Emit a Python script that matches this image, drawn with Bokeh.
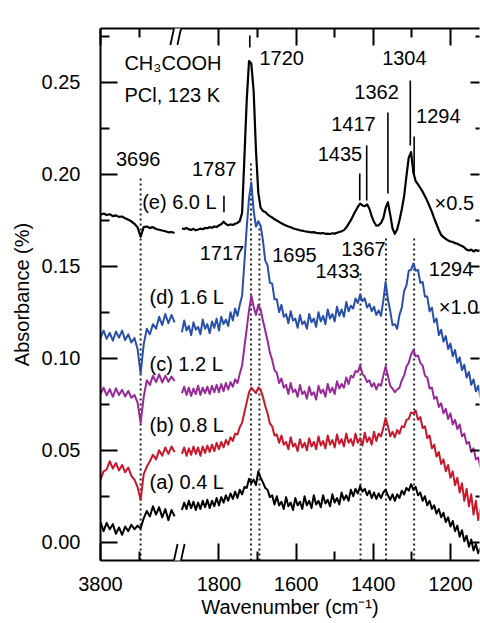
from bokeh.plotting import figure
from bokeh.models import Range1d, LinearAxis, FixedTicker, Arrow, NumeralTickFormatter, Label
from bokeh.embed import file_html
from bokeh.resources import INLINE

# ---------------- data ----------------
# wavenumber sampling (cm-1) of the two panels of the broken axis
WN_LEFT = list(range(3800, 3607, -8))
WN_RIGHT = list(range(1896, 1121, -6))

# (e) 6.0 L (x0.5)
E_LEFT = [0.1780, 0.1786, 0.1778, 0.1782, 0.1772, 0.1776, 0.1768, 0.1770, 0.1760, 0.1752,
          0.1744, 0.1730, 0.1712, 0.1660, 0.1712, 0.1716, 0.1708, 0.1712, 0.1702, 0.1698,
          0.1694, 0.1690, 0.1684, 0.1686, 0.1680]
E_RIGHT = [0.1705, 0.1702, 0.1708, 0.1700, 0.1697, 0.1703, 0.1695, 0.1699, 0.1704, 0.1701,
           0.1708, 0.1706, 0.1712, 0.1709, 0.1716, 0.1713, 0.1722, 0.1728, 0.1742, 0.1729,
           0.1722, 0.1727, 0.1724, 0.1731, 0.1735, 0.1745, 0.1790, 0.2090, 0.2400, 0.2615,
           0.2600, 0.2450, 0.2130, 0.1900, 0.1818, 0.1800, 0.1795, 0.1782, 0.1772, 0.1765,
           0.1755, 0.1748, 0.1741, 0.1733, 0.1727, 0.1721, 0.1716, 0.1712, 0.1706, 0.1702,
           0.1699, 0.1695, 0.1693, 0.1690, 0.1688, 0.1686, 0.1684, 0.1685, 0.1681, 0.1680,
           0.1678, 0.1680, 0.1676, 0.1677, 0.1675, 0.1679, 0.1677, 0.1682, 0.1686, 0.1690,
           0.1696, 0.1710, 0.1730, 0.1750, 0.1775, 0.1800, 0.1822, 0.1840, 0.1830, 0.1826,
           0.1836, 0.1812, 0.1772, 0.1740, 0.1720, 0.1722, 0.1735, 0.1760, 0.1815, 0.1848,
           0.1780, 0.1705, 0.1676, 0.1700, 0.1750, 0.1810, 0.1880, 0.1990, 0.2090, 0.2120,
           0.2010, 0.1962, 0.1945, 0.1925, 0.1905, 0.1880, 0.1855, 0.1825, 0.1795, 0.1760,
           0.1728, 0.1697, 0.1670, 0.1658, 0.1648, 0.1640, 0.1634, 0.1632, 0.1625, 0.1622,
           0.1615, 0.1610, 0.1602, 0.1590, 0.1585, 0.1590, 0.1580, 0.1588, 0.1583, 0.1586]

# (d) 1.6 L
D_LEFT = [0.1110, 0.1150, 0.1105, 0.1138, 0.1095, 0.1145, 0.1112, 0.1150, 0.1098, 0.1130,
          0.1085, 0.1110, 0.1050, 0.0918, 0.1075, 0.1160, 0.1130, 0.1185, 0.1160, 0.1225,
          0.1180, 0.1240, 0.1190, 0.1235, 0.1195]
D_RIGHT = [0.1140, 0.1205, 0.1150, 0.1175, 0.1125, 0.1195, 0.1155, 0.1170, 0.1130, 0.1210,
           0.1160, 0.1185, 0.1135, 0.1200, 0.1165, 0.1215, 0.1150, 0.1225, 0.1185, 0.1210,
           0.1175, 0.1250, 0.1205, 0.1270, 0.1230, 0.1290, 0.1340, 0.1520, 0.1710, 0.1870,
           0.1955, 0.1800, 0.1715, 0.1745, 0.1720, 0.1640, 0.1530, 0.1505, 0.1410, 0.1405,
           0.1320, 0.1320, 0.1250, 0.1290, 0.1225, 0.1240, 0.1190, 0.1255, 0.1205, 0.1215,
           0.1165, 0.1235, 0.1185, 0.1200, 0.1160, 0.1240, 0.1195, 0.1215, 0.1170, 0.1250,
           0.1200, 0.1230, 0.1185, 0.1265, 0.1215, 0.1240, 0.1200, 0.1280, 0.1230, 0.1265,
           0.1225, 0.1305, 0.1255, 0.1285, 0.1270, 0.1325, 0.1300, 0.1345, 0.1310, 0.1325,
           0.1275, 0.1295, 0.1255, 0.1280, 0.1235, 0.1260, 0.1230, 0.1310, 0.1415, 0.1320,
           0.1255, 0.1180, 0.1185, 0.1160, 0.1235, 0.1275, 0.1365, 0.1395, 0.1475, 0.1480,
           0.1515, 0.1475, 0.1480, 0.1410, 0.1415, 0.1335, 0.1335, 0.1255, 0.1275, 0.1195,
           0.1215, 0.1125, 0.1155, 0.1090, 0.1120, 0.1050, 0.1080, 0.1010, 0.1045, 0.0975,
           0.1005, 0.0935, 0.0965, 0.0895, 0.0925, 0.0855, 0.0885, 0.0820, 0.0850, 0.0785]

# (c) 1.2 L
C_LEFT = [0.0805, 0.0840, 0.0798, 0.0832, 0.0790, 0.0836, 0.0800, 0.0828, 0.0792, 0.0822,
          0.0785, 0.0800, 0.0760, 0.0648, 0.0790, 0.0880, 0.0855, 0.0905, 0.0870, 0.0912,
          0.0868, 0.0905, 0.0872, 0.0900, 0.0876]
C_RIGHT = [0.0810, 0.0845, 0.0800, 0.0840, 0.0795, 0.0835, 0.0805, 0.0850, 0.0800, 0.0840,
           0.0810, 0.0845, 0.0805, 0.0850, 0.0815, 0.0855, 0.0815, 0.0860, 0.0820, 0.0865,
           0.0830, 0.0870, 0.0845, 0.0885, 0.0865, 0.0915, 0.0960, 0.1060, 0.1160, 0.1260,
           0.1340, 0.1280, 0.1235, 0.1290, 0.1265, 0.1205, 0.1150, 0.1095, 0.1030, 0.0990,
           0.0935, 0.0920, 0.0865, 0.0890, 0.0840, 0.0855, 0.0805, 0.0865, 0.0815, 0.0830,
           0.0790, 0.0855, 0.0805, 0.0820, 0.0780, 0.0845, 0.0800, 0.0815, 0.0775, 0.0850,
           0.0810, 0.0830, 0.0790, 0.0860, 0.0815, 0.0840, 0.0805, 0.0875, 0.0835, 0.0860,
           0.0840, 0.0895, 0.0860, 0.0905, 0.0895, 0.0930, 0.0925, 0.0960, 0.0915, 0.0900,
           0.0870, 0.0880, 0.0845, 0.0865, 0.0830, 0.0860, 0.0850, 0.0905, 0.0955, 0.0905,
           0.0850, 0.0835, 0.0815, 0.0830, 0.0840, 0.0880, 0.0905, 0.0955, 0.0975, 0.1020,
           0.1045, 0.1010, 0.1015, 0.0975, 0.0960, 0.0905, 0.0895, 0.0835, 0.0840, 0.0780,
           0.0790, 0.0735, 0.0755, 0.0700, 0.0725, 0.0670, 0.0700, 0.0640, 0.0665, 0.0615,
           0.0640, 0.0575, 0.0590, 0.0535, 0.0545, 0.0490, 0.0510, 0.0450, 0.0460, 0.0405]

# (b) 0.8 L
B_LEFT = [0.0340, 0.0385, 0.0395, 0.0440, 0.0400, 0.0430, 0.0390, 0.0420, 0.0380, 0.0405,
          0.0360, 0.0340, 0.0300, 0.0230, 0.0370, 0.0410, 0.0440, 0.0475, 0.0450, 0.0500,
          0.0470, 0.0515, 0.0480, 0.0520, 0.0490]
B_RIGHT = [0.0480, 0.0515, 0.0470, 0.0510, 0.0475, 0.0520, 0.0480, 0.0515, 0.0470, 0.0520,
           0.0485, 0.0525, 0.0490, 0.0530, 0.0495, 0.0540, 0.0505, 0.0545, 0.0515, 0.0555,
           0.0530, 0.0570, 0.0550, 0.0590, 0.0585, 0.0625, 0.0650, 0.0705, 0.0760, 0.0815,
           0.0840, 0.0825, 0.0810, 0.0840, 0.0830, 0.0790, 0.0740, 0.0700, 0.0645, 0.0630,
           0.0580, 0.0585, 0.0540, 0.0580, 0.0530, 0.0545, 0.0505, 0.0570, 0.0520, 0.0535,
           0.0495, 0.0560, 0.0515, 0.0540, 0.0500, 0.0565, 0.0520, 0.0545, 0.0505, 0.0575,
           0.0525, 0.0550, 0.0510, 0.0580, 0.0530, 0.0555, 0.0515, 0.0585, 0.0535, 0.0560,
           0.0520, 0.0590, 0.0540, 0.0560, 0.0525, 0.0590, 0.0540, 0.0565, 0.0525, 0.0595,
           0.0545, 0.0570, 0.0530, 0.0600, 0.0550, 0.0590, 0.0575, 0.0620, 0.0675, 0.0630,
           0.0575, 0.0600, 0.0570, 0.0610, 0.0590, 0.0630, 0.0625, 0.0665, 0.0670, 0.0705,
           0.0700, 0.0715, 0.0665, 0.0680, 0.0620, 0.0630, 0.0565, 0.0580, 0.0510, 0.0530,
           0.0465, 0.0490, 0.0425, 0.0450, 0.0385, 0.0420, 0.0350, 0.0385, 0.0310, 0.0350,
           0.0270, 0.0320, 0.0225, 0.0290, 0.0195, 0.0260, 0.0150, 0.0225, 0.0120, 0.0185]

# (a) 0.4 L
A_LEFT = [0.0110, 0.0060, 0.0105, 0.0070, 0.0098, 0.0045, 0.0080, 0.0040, 0.0085, 0.0060,
          0.0095, 0.0070, 0.0090, 0.0075, 0.0130, 0.0170, 0.0140, 0.0195, 0.0150, 0.0190,
          0.0135, 0.0180, 0.0120, 0.0175, 0.0140]
A_RIGHT = [0.0175, 0.0215, 0.0180, 0.0225, 0.0185, 0.0220, 0.0175, 0.0215, 0.0180, 0.0225,
           0.0190, 0.0230, 0.0185, 0.0225, 0.0195, 0.0240, 0.0200, 0.0245, 0.0215, 0.0255,
           0.0225, 0.0265, 0.0235, 0.0275, 0.0240, 0.0285, 0.0260, 0.0300, 0.0295, 0.0345,
           0.0320, 0.0340, 0.0310, 0.0385, 0.0350, 0.0325, 0.0295, 0.0285, 0.0245, 0.0255,
           0.0205, 0.0250, 0.0200, 0.0220, 0.0180, 0.0245, 0.0195, 0.0215, 0.0175, 0.0240,
           0.0200, 0.0220, 0.0180, 0.0250, 0.0200, 0.0225, 0.0185, 0.0255, 0.0205, 0.0225,
           0.0190, 0.0255, 0.0210, 0.0230, 0.0195, 0.0260, 0.0215, 0.0240, 0.0205, 0.0270,
           0.0230, 0.0255, 0.0225, 0.0285, 0.0250, 0.0290, 0.0265, 0.0305, 0.0275, 0.0290,
           0.0255, 0.0280, 0.0240, 0.0270, 0.0235, 0.0265, 0.0240, 0.0270, 0.0285, 0.0255,
           0.0230, 0.0260, 0.0225, 0.0260, 0.0240, 0.0280, 0.0260, 0.0295, 0.0280, 0.0315,
           0.0285, 0.0300, 0.0255, 0.0270, 0.0225, 0.0250, 0.0200, 0.0225, 0.0180, 0.0200,
           0.0155, 0.0180, 0.0135, 0.0160, 0.0110, 0.0135, 0.0085, 0.0115, 0.0060, 0.0090,
           0.0030, 0.0065, 0.0005, 0.0035, -0.0025, 0.0015, -0.0045, -0.0010, -0.0060, -0.0030]

SERIES_COLORS = ["black", "#2850AA", "#982A98", "#C8182C", "black"]

# axis ticks (cm-1)
X_MAJOR_LEFT = [3800]
X_MINOR_LEFT = [3700]
X_MAJOR_RIGHT = [1800, 1600, 1400, 1200]
X_MINOR_RIGHT = [1700, 1500, 1300, 1100]
Y_MAJOR = [0.00, 0.05, 0.10, 0.15, 0.20, 0.25]
Y_MINOR = [0.025, 0.075, 0.125, 0.175, 0.225, 0.275]

# dotted reference lines (cm-1) and their upper ends (absorbance)
DOT_WN = [3696, 1717, 1695, 1433, 1367, 1294]
DOT_TOP = [0.1993, 0.2058, 0.1725, 0.1461, 0.1656, 0.1656]

# solid peak markers of spectrum (e)
MARK_WN = [1787, 1720, 1435, 1417, 1362, 1304, 1294]
MARK_Y0 = [0.1793, 0.2688, 0.1857, 0.1857, 0.1895, 0.2156, 0.1993]
MARK_Y1 = [0.1883, 0.2754, 0.2004, 0.2156, 0.2335, 0.2509, 0.2205]

# text annotations: text, axis position (cm-1, left/right panel), vertical centre (absorbance)
LABELS = ["CH\u2083COOH", "PCl, 123 K", "3696", "1787", "(e) 6.0 L", "1720", "1304",
          "1362", "1417", "1435", "1294", "\u00d70.5", "1717", "1695", "1367", "1433",
          "1294", "\u00d71.0", "(d) 1.6 L", "(c) 1.2 L", "(b) 0.8 L", "(a) 0.4 L"]
LABEL_WN = [3738, 3738, 3760, 1870, 3692, 1695, 1377, 1449, 1509, 1544, 1289, 1241,
            1850, 1662, 1483, 1550, 1256, 1230, 3673, 3673, 3673, 3673]
LABEL_Y = [0.2602, 0.2429, 0.2081, 0.2026, 0.1851, 0.2634, 0.2634, 0.2448, 0.2275,
           0.2112, 0.2317, 0.1846, 0.1569, 0.1560, 0.1596, 0.1475, 0.1487, 0.1276,
           0.1330, 0.0971, 0.0636, 0.0328]

# ---------------- broken-axis mapping ----------------
LEFT_ORIGIN = 3800     # left panel: 3800 -> 0
RIGHT_ORIGIN = 2107    # right panel: 1900 -> 207
SPLIT = 2800


def pos(wn):
    return (LEFT_ORIGIN - wn) if wn > SPLIT else (RIGHT_ORIGIN - wn)


Y_START, Y_END = -0.00995, 0.27918
X_END = 982.4
FONT = "Liberation Sans"
FS = "20px"
FS_LABEL = "15pt"

p = figure(width=480, height=623, output_backend="svg", toolbar_location=None,
           x_range=Range1d(0, X_END), y_range=Range1d(Y_START, Y_END),
           x_axis_location=None, y_axis_location=None,
           min_border_left=100, min_border_right=1, min_border_top=28, min_border_bottom=63)
p.outline_line_color = None
p.xgrid.visible = False
p.ygrid.visible = False
p.background_fill_color = "white"
p.border_fill_color = "white"

xmaj = [pos(w) for w in X_MAJOR_LEFT + X_MAJOR_RIGHT]
xmin = [pos(w) for w in X_MINOR_LEFT + X_MINOR_RIGHT]
xlabels = {pos(w): str(w) for w in X_MAJOR_LEFT + X_MAJOR_RIGHT}


def style(ax, tick_in, minor_in, labels=True):
    ax.axis_line_width = 2
    ax.axis_line_color = "black"
    ax.major_tick_line_width = 2
    ax.minor_tick_line_width = 2
    ax.major_tick_line_color = "black"
    ax.minor_tick_line_color = "black"
    ax.major_tick_in = tick_in
    ax.major_tick_out = 0
    ax.minor_tick_in = minor_in
    ax.minor_tick_out = 0
    if labels:
        ax.major_label_text_font = FONT
        ax.major_label_text_font_size = FS
        ax.major_label_text_color = "black"
        ax.axis_label_text_font = FONT
        ax.axis_label_text_font_size = FS
        ax.axis_label_text_font_style = "normal"
        ax.axis_label_text_color = "black"
    else:
        ax.major_label_text_font_size = "0px"
        ax.major_label_standoff = 0


bottom = LinearAxis(ticker=FixedTicker(ticks=xmaj, minor_ticks=xmin),
                    major_label_overrides=xlabels, axis_label="Wavenumber (cm\u207b\u00b9)")
style(bottom, 17, 9)
bottom.major_label_standoff = 16
bottom.axis_label_standoff = 2
p.add_layout(bottom, "below")

top = LinearAxis(ticker=FixedTicker(ticks=xmaj, minor_ticks=xmin))
style(top, 17, 9, labels=False)
p.add_layout(top, "above")

left = LinearAxis(ticker=FixedTicker(ticks=Y_MAJOR, minor_ticks=Y_MINOR),
                  formatter=NumeralTickFormatter(format="0.00"), axis_label="Absorbance (%)")
style(left, 17, 9)
left.major_label_standoff = 20
left.axis_label_standoff = 6
p.add_layout(left, "left")

right = LinearAxis(ticker=FixedTicker(ticks=Y_MAJOR, minor_ticks=Y_MINOR))
style(right, 9, 4, labels=False)
right.axis_line_color = None
p.add_layout(right, "right")

# dotted guide lines
p.segment(x0=[pos(w) for w in DOT_WN], y0=[Y_START] * len(DOT_WN),
          x1=[pos(w) for w in DOT_WN], y1=DOT_TOP,
          line_color="#222222", line_width=2, line_dash="2 3")

# spectra
lefts = [A_LEFT, B_LEFT, C_LEFT, D_LEFT, E_LEFT]
rights = [A_RIGHT, B_RIGHT, C_RIGHT, D_RIGHT, E_RIGHT]
cols = [SERIES_COLORS[4], SERIES_COLORS[3], SERIES_COLORS[2], SERIES_COLORS[1], SERIES_COLORS[0]]
widths = [2.0, 2.0, 2.0, 2.0, 2.2]
for yl, yr, c, w in zip(lefts, rights, cols, widths):
    p.line([pos(v) for v in WN_LEFT], yl, line_color=c, line_width=w, line_join="round")
    p.line([pos(v) for v in WN_RIGHT], yr, line_color=c, line_width=w, line_join="round")

# peak markers
p.segment(x0=[pos(w) for w in MARK_WN], y0=MARK_Y0, x1=[pos(w) for w in MARK_WN], y1=MARK_Y1,
          line_color="black", line_width=1.6)

# texts
for t, wn, yy in zip(LABELS, LABEL_WN, LABEL_Y):
    p.add_layout(Label(x=pos(wn), y=yy, text=t, text_font=FONT, text_font_size=FS_LABEL,
                       text_color="black", text_align="left", text_baseline="middle"))

# axis break marks (//) on top and bottom axis lines
BREAK_C1, BREAK_C2 = 190.5, 208.7
DU, DY = 9.3, 0.0090
for yax in (Y_START, Y_END):
    p.add_layout(Arrow(end=None, x_start=BREAK_C1, y_start=yax, x_end=BREAK_C2, y_end=yax,
                       line_color="white", line_width=5))
    for cx in (BREAK_C1, BREAK_C2):
        p.add_layout(Arrow(end=None, x_start=cx - DU, y_start=yax - DY,
                           x_end=cx + DU, y_end=yax + DY, line_color="black", line_width=1.8))

open("out.html", "w").write(file_html(p, INLINE))
